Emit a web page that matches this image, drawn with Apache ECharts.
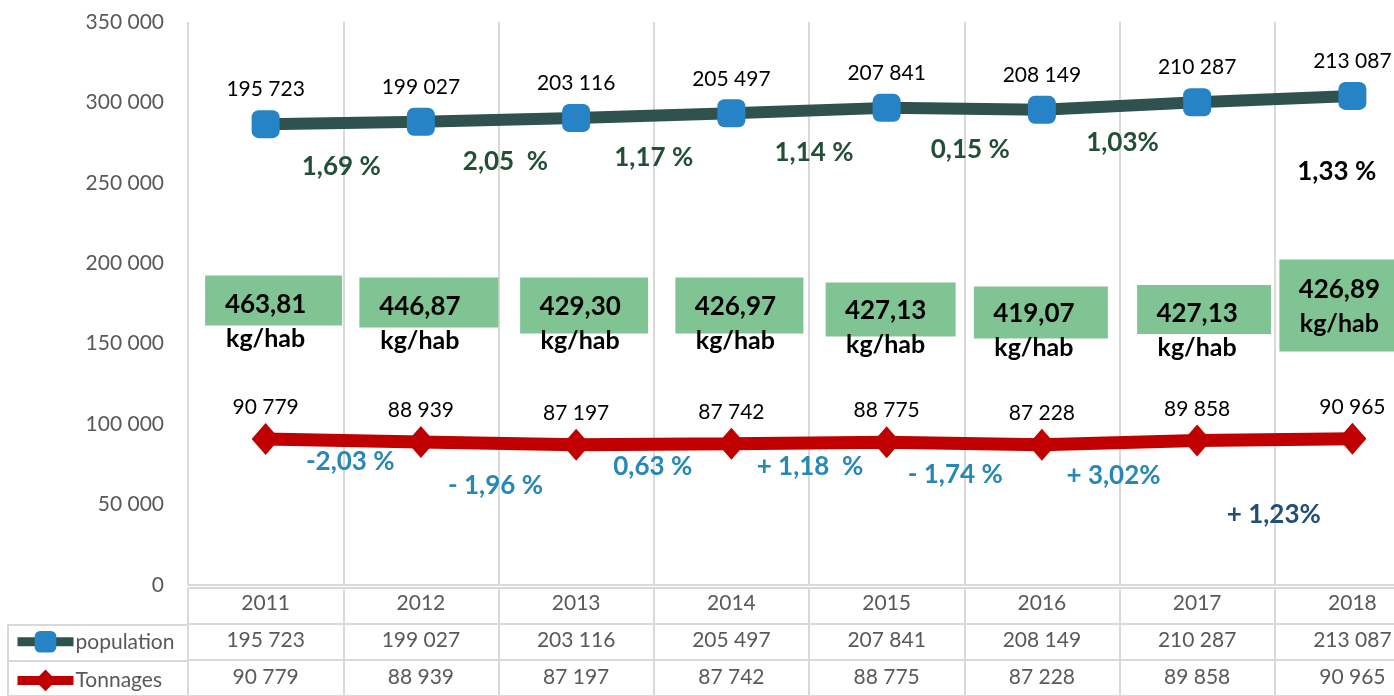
<!DOCTYPE html>
<html>
<head>
<meta charset="utf-8">
<script src="https://cdn.jsdelivr.net/npm/echarts@6/dist/echarts.min.js"></script>
<style>
html, body { margin: 0; padding: 0; background: #fff; overflow: hidden; }
/* the plot runs past the right edge of the picture, like the cropped original */
#chart { width: 1430px; height: 696px; }
</style>
</head>
<body>
<div id="chart"></div>
<script>
// data
var years = ['2011', '2012', '2013', '2014', '2015', '2016', '2017', '2018'];
var population = [195723, 199027, 203116, 205497, 207841, 208149, 210287, 213087];
var tonnages = [90779, 88939, 87197, 87742, 88775, 87228, 89858, 90965];
var ratioLabels = ['463,81', '446,87', '429,30', '426,97', '427,13', '419,07', '427,13', '426,89'];
var popChange = ['1,69 %', '2,05  %', '1,17 %', '1,14 %', '0,15 %', '1,03%', '1,33 %'];
var tonChange = ['-2,03 %', '- 1,96 %', '0,63 %', '+ 1,18  %', '- 1,74 %', '+ 3,02%', '+ 1,23%'];

// layout of the hand placed annotations (pixels)
var boxLevel = 175000;
var boxSize = [[137, 50], [139, 50], [128, 56], [128, 56], [130, 54], [134, 52], [134, 49], [140, 92]];
var boxShift = [[8, -3], [8, -1], [8, 2], [8, 2], [4, 6], [-1, 9], [7, 6], [-3, 2]];
var ratioShift = [[0, 18], [-1, 20], [4, 20], [4, 20], [-1, 24], [-8, 27], [0, 27], [-13, 3]];
var popNudge = [[-2, 44], [7, 42], [0, 42], [5, 42], [6, 41], [3, 37], [62, 73]];
var tonNudge = [[7, 21], [-3, 42], [-1, 22], [1, 24], [-9, 31], [-6, 33], [-1, 75]];

var FONT = 'Lato';

function fmt(v) {
    return String(v).replace(/\B(?=(\d{3})+(?!\d))/g, ' ');
}

var stacked = population.map(function (p, i) { return p + tonnages[i]; });

var popPct = popChange.map(function (t, i) {
    return {
        value: [i + 0.5, (stacked[i] + stacked[i + 1]) / 2],
        label: { offset: popNudge[i], color: i === 6 ? '#000000' : '#234f37' }
    };
});
var tonPct = tonChange.map(function (t, i) {
    return {
        value: [i + 0.5, (tonnages[i] + tonnages[i + 1]) / 2],
        label: { offset: tonNudge[i], color: i === 6 ? '#1f4e79' : '#2787b6' }
    };
});
var boxes = years.map(function (y, i) {
    return { value: [i, boxLevel], symbolSize: boxSize[i], symbolOffset: boxShift[i] };
});
var ratios = years.map(function (y, i) {
    return { value: [i, boxLevel], label: { offset: ratioShift[i] } };
});

var gridColor = '#d9d9d9';
var hidden = { color: 'rgba(0,0,0,0)', opacity: 1 };

var chart = echarts.init(document.getElementById('chart'));
chart.setOption({
    animation: false,
    textStyle: { fontFamily: FONT },
    grid: [
        { left: 188, right: 0, top: 22, bottom: 108 },
        { left: 188, right: 0, top: 588, bottom: -3 },
        { left: 8, width: 180, top: 625, bottom: -3 }
    ],
    legend: {
        data: ['population', 'Tonnages'],
        orient: 'vertical',
        left: 13,
        top: 631,
        padding: 0,
        itemWidth: 56,
        itemHeight: 27,
        itemGap: 17,
        selectedMode: false,
        lineStyle: { width: 9 },
        textStyle: { fontSize: 21, color: '#595959', fontFamily: FONT, padding: [0, 0, 0, -3] }
    },
    xAxis: [
        {
            type: 'category',
            gridIndex: 0,
            data: years,
            axisLine: { lineStyle: { color: gridColor, width: 2 } },
            axisTick: { show: false },
            splitLine: { show: true, lineStyle: { color: gridColor, width: 2 } },
            axisLabel: {
                interval: 0,
                margin: 0,
                color: '#595959',
                fontSize: 21,
                fontFamily: FONT,
                lineHeight: 37,
                formatter: function (v, i) {
                    return v + '\n' + fmt(population[i]) + '\n' + fmt(tonnages[i]);
                }
            }
        },
        {
            type: 'value',
            gridIndex: 0,
            min: -0.5,
            max: 7.5,
            show: false
        },
        {
            type: 'category',
            gridIndex: 1,
            data: years,
            axisLine: { show: false },
            axisTick: { show: false },
            axisLabel: { show: false },
            splitLine: { show: true, lineStyle: { color: gridColor, width: 2 } }
        },
        {
            type: 'value',
            gridIndex: 2,
            show: false
        }
    ],
    yAxis: [
        {
            type: 'value',
            gridIndex: 0,
            min: 0,
            max: 350000,
            interval: 50000,
            axisLine: { show: false },
            axisTick: { show: false },
            splitLine: { show: false },
            axisLabel: {
                margin: 24,
                color: '#595959',
                fontSize: 21,
                fontFamily: FONT,
                formatter: function (v) { return fmt(v); }
            }
        },
        {
            type: 'category',
            gridIndex: 1,
            data: ['', '', ''],
            axisLine: { show: false },
            axisTick: { show: false },
            axisLabel: { show: false },
            splitLine: { show: true, lineStyle: { color: gridColor, width: 2 } }
        },
        {
            type: 'category',
            gridIndex: 2,
            data: ['', ''],
            axisLine: { show: true, lineStyle: { color: gridColor, width: 2 } },
            axisTick: { show: false },
            axisLabel: { show: false },
            splitLine: { show: true, lineStyle: { color: gridColor, width: 2 } }
        }
    ],
    series: [
        {
            name: 'Tonnages',
            type: 'line',
            stack: 'total',
            data: tonnages,
            symbol: 'diamond',
            symbolSize: [28, 32],
            lineStyle: { color: '#c00000', width: 13 },
            itemStyle: { color: '#c00000' },
            z: 3,
            label: {
                show: true,
                position: 'top',
                distance: 5,
                color: '#000',
                fontSize: 21,
                fontFamily: FONT,
                formatter: function (p) { return fmt(p.value); }
            }
        },
        {
            name: 'population',
            type: 'line',
            stack: 'total',
            data: population,
            symbol: 'roundRect',
            symbolSize: 28,
            lineStyle: { color: '#2f524f', width: 12 },
            itemStyle: { color: '#2683c6' },
            z: 3,
            label: {
                show: true,
                position: 'top',
                distance: 10,
                color: '#000',
                fontSize: 21,
                fontFamily: FONT,
                formatter: function (p) { return fmt(p.value); }
            }
        },
        {
            name: 'boxes',
            type: 'scatter',
            xAxisIndex: 0,
            yAxisIndex: 0,
            symbol: 'rect',
            itemStyle: { color: '#7fc492', opacity: 1 },
            z: 2,
            silent: true,
            data: boxes
        },
        {
            name: 'ratio',
            type: 'scatter',
            xAxisIndex: 0,
            yAxisIndex: 0,
            symbolSize: 1,
            itemStyle: hidden,
            z: 4,
            silent: true,
            label: {
                show: true,
                position: 'inside',
                formatter: function (p) {
                    return '{n|' + ratioLabels[p.dataIndex] + '}\n{u|kg/hab}';
                },
                rich: {
                    n: { fontSize: 26, fontWeight: 'bold', color: '#000', lineHeight: 34, fontFamily: FONT },
                    u: { fontSize: 25, fontWeight: 'bold', color: '#000', lineHeight: 34, fontFamily: FONT }
                }
            },
            data: ratios
        },
        {
            name: 'popPct',
            type: 'scatter',
            xAxisIndex: 1,
            yAxisIndex: 0,
            symbolSize: 1,
            itemStyle: hidden,
            z: 4,
            silent: true,
            label: {
                show: true,
                position: 'inside',
                fontSize: 26,
                fontWeight: 'bold',
                fontFamily: FONT,
                formatter: function (p) { return popChange[p.dataIndex]; }
            },
            data: popPct
        },
        {
            name: 'tonPct',
            type: 'scatter',
            xAxisIndex: 1,
            yAxisIndex: 0,
            symbolSize: 1,
            itemStyle: hidden,
            z: 4,
            silent: true,
            label: {
                show: true,
                position: 'inside',
                fontSize: 26,
                fontWeight: 'bold',
                fontFamily: FONT,
                formatter: function (p) { return tonChange[p.dataIndex]; }
            },
            data: tonPct
        }
    ]
});
</script>
</body>
</html>
